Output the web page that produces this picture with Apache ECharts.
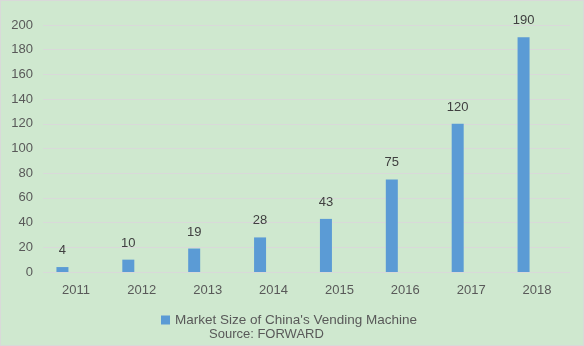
<!DOCTYPE html>
<html><head><meta charset="utf-8">
<script src="https://cdn.jsdelivr.net/npm/echarts@6/dist/echarts.min.js"></script>
<style>html,body{margin:0;padding:0;background:#fff}#c{width:582px;height:344px;border:1px solid #d9d9d9;background:#cfe8cf}</style>
</head><body><div id="c"></div>
<script>
const categories = ['2011','2012','2013','2014','2015','2016','2017','2018'];
const values = [4,10,19,28,43,75,120,190];
const seriesName = "Market Size of China's Vending Machine";
const sourceText = 'Source: FORWARD';
const chart = echarts.init(document.getElementById('c'));
const font = 'Liberation Sans, Arial, sans-serif';
chart.setOption({
  backgroundColor: '#cfe8cf',
  animation: false,
  grid: {left: 42, right: 13, top: 24, bottom: 73},
  legend: {data:[seriesName], left: 155, top: 307, icon: 'rect', itemWidth: 9, itemHeight: 9, itemGap: 6,
    textStyle:{color:'#595959', fontSize:13.5, fontFamily: font}},
  graphic: [{type:'text', left: 208, top: 327, style:{text: sourceText, fill:'#595959', fontSize:13, fontFamily: font}}],
  xAxis: {type:'category', data: categories,
    axisLine:{show:false}, axisTick:{show:false},
    axisLabel:{color:'#595959', fontSize:13, fontFamily: font, margin: 12}},
  yAxis: {type:'value', min:0, max:200, interval:20,
    axisLine:{show:false}, axisTick:{show:false},
    splitLine:{lineStyle:{color:'#d9d9d9', width:1}},
    axisLabel:{color:'#595959', fontSize:13, fontFamily: font, margin: 10}},
  series: [
    {name: seriesName, type:'bar', data: values, barWidth: 12, barGap: '125%',
      itemStyle:{color:'#5b9bd5'},
      label:{show:true, position:'top', distance: 10, color:'#404040', fontSize:13, fontFamily: font}},
    {name: 'spacer', type:'bar', data: categories.map(() => null), barWidth: 12, silent: true}
  ]
});
</script></body></html>
